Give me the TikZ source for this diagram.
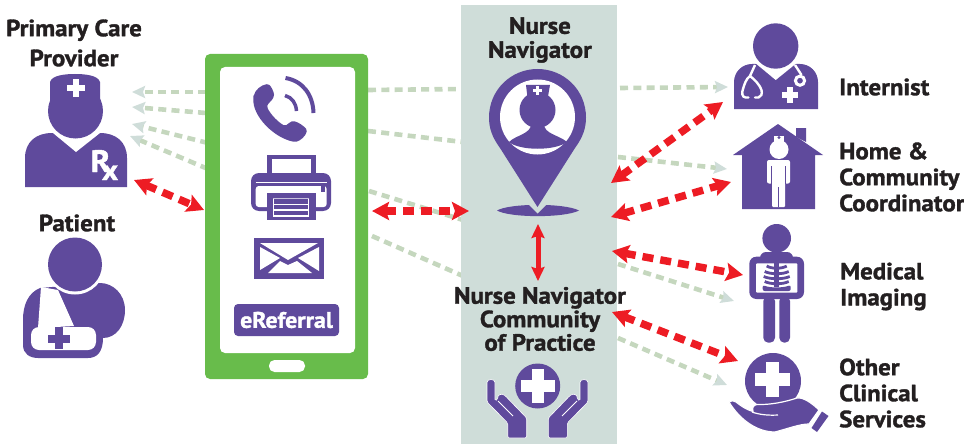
\documentclass[tikz,border=0pt]{standalone}
\usepackage{fontspec}
\setmainfont{PT Sans}[BoldFeatures={FakeBold=1.4,FakeStretch=1.06}]
\usetikzlibrary{arrows.meta}
\definecolor{purp}{HTML}{5F4A9C}
\definecolor{phonegreen}{HTML}{68BC4B}
\definecolor{panelc}{HTML}{CFDDD9}
\definecolor{dashg}{HTML}{C5D7BE}
\definecolor{redc}{HTML}{ED1C24}
\definecolor{ink}{HTML}{231F20}
\tikzset{
  lbl/.style={font=\bfseries\fontsize{23.5}{26}\selectfont,text=ink,inner sep=0pt,align=center},
  lblleft/.style={lbl,align=left,anchor=west},
  greenplain/.style={draw=dashg,line width=4.6pt,dash pattern=on 8pt off 5.3pt},
  greenarrow/.style={greenplain,-{Stealth[length=13pt,width=12pt,inset=2pt,color=panelc]}},
  redarrow/.style={draw=redc,line width=7.5pt,dash pattern=on 11pt off 7pt,{Stealth[length=17pt,width=18pt,inset=3pt]}-{Stealth[length=17pt,width=18pt,inset=3pt]}},
  redsolid/.style={draw=redc,line width=5pt,{Stealth[length=14pt,width=13pt,inset=2pt]}-{Stealth[length=14pt,width=13pt,inset=2pt]}},
}
\begin{document}
\begin{tikzpicture}[x=1pt,y=-1pt]
\useasboundingbox (0,0) rectangle (964,444);
% endpoints
\coordinate (pg1) at (132,92); \coordinate (pg2) at (132,107); \coordinate (pg3) at (132,124); \coordinate (pg4) at (130,136);
\coordinate (mg1) at (206,92); \coordinate (mg2) at (206,113); \coordinate (mg3) at (208,143); \coordinate (mg4) at (208,169);
\coordinate (ma1) at (368,90); \coordinate (ma2) at (368,131); \coordinate (ma3) at (369,191); \coordinate (ma4) at (372,236);
\coordinate (na1) at (463,89); \coordinate (na2) at (463,142); \coordinate (na3) at (463,220); \coordinate (na4) at (463,276);
\coordinate (rs1) at (620,88); \coordinate (rs2) at (618,157); \coordinate (rs3) at (618,264); \coordinate (rs4) at (618,338);
\coordinate (ri1) at (728,87); \coordinate (rh1) at (727,169); \coordinate (rm1) at (734,301); \coordinate (ro1) at (727,385);
\coordinate (rp) at (134,180); \coordinate (rq) at (204,210);
\coordinate (rphone) at (372,211); \coordinate (rnn) at (469,211);
\coordinate (rtop) at (538,224); \coordinate (rbot) at (538,281);
\coordinate (a1) at (611,183); \coordinate (b1) at (723,102);
\coordinate (a2) at (611,217); \coordinate (b2) at (731,182);
\coordinate (a3) at (612,251); \coordinate (b3) at (743,275);
\coordinate (a4) at (612,312); \coordinate (b4) at (738,361);
% green dashed
\draw[greenarrow] (mg1) -- (pg1);
\draw[greenarrow] (mg2) -- (pg2);
\draw[greenarrow] (mg3) -- (pg3);
\draw[greenarrow] (mg4) -- (pg4);
\foreach \s/\e in {ma1/na1,ma2/na2,ma3/na3,ma4/na4}
  \draw[greenplain] (\s) -- (\e);
\draw[greenarrow] (rs1) -- (ri1);
\draw[greenarrow] (rs2) -- (rh1);
\draw[greenarrow] (rs3) -- (rm1);
\draw[greenarrow] (rs4) -- (ro1);
% panel
\fill[panelc] (461,5) rectangle (617,444);
% phone
\fill[phonegreen,rounded corners=5pt] (205,54) rectangle (368,379);
\fill[white,rounded corners=5pt] (220,67) rectangle (355,353);
\fill[white,rounded corners=5.5pt] (269,360) rectangle (305,372);
% handset
\fill[purp,rounded corners=1.5pt] (253.5,97) .. controls (255,90) and (261,85) .. (268,84)
  .. controls (271,86) and (274,92) .. (274,96) .. controls (272,101) and (268,103) .. (267,107)
  .. controls (271,115) and (278,122) .. (285,126) .. controls (288,124) and (290,122) .. (293,121)
  .. controls (298,122) and (304,126) .. (307,130) .. controls (306,136) and (300,141) .. (295,142)
  .. controls (274,138) and (252,116) .. (253.5,97) -- cycle;
\draw[purp,line width=4pt] (285.5,78) .. controls (303,81) and (313,95) .. (313.5,113);
\draw[purp,line width=3.5pt] (285,95.5) .. controls (292,97.5) and (296,103) .. (296.5,111);
% printer
\fill[purp] (267,155) rectangle (316,175);
\fill[white] (271.7,159) rectangle (311,173);
\fill[purp,rounded corners=8pt] (251,173) rectangle (331,211);
\fill[white,rounded corners=3pt] (255.7,186) rectangle (326.7,207);
\draw[white,line width=1.2pt] (255.7,182.7) -- (326.7,182.7);
\fill[purp] (321,186) rectangle (325,192);
\fill[purp] (267,193) rectangle (316,219.5);
\draw[white,line width=1.5pt] (273.5,198) -- (273.5,216);
\draw[white,line width=1.5pt] (308.5,198) -- (308.5,216);
\draw[white!65!purp,line width=1.2pt] (273,198.3) -- (309,198.3);
\foreach \yy in {204.3,210,215.8} \draw[white,line width=1.4pt] (273,\yy) -- (309,\yy);
% envelope
\fill[purp] (254,238) rectangle (324,279);
\fill[white] (260,243) -- (318,243) -- (288,260) -- cycle;
\fill[white] (260,247) -- (260,270) -- (280,258) -- cycle;
\fill[white] (319,247) -- (319,271) -- (298,258) -- cycle;
\fill[white] (268,273) -- (312,273) -- (297,261) -- (288,265) -- (280,261) -- cycle;
% eReferral
\node[fill=purp,rounded corners=4pt,minimum width=105pt,minimum height=32pt,inner sep=0pt,text=white,font=\bfseries\fontsize{22.5}{24}\selectfont] (eref) at (286.5,320) {eReferral};
% Primary care provider
\node[lbl,font=\bfseries\fontsize{23.5}{30}\selectfont] (pcpl) at (74,43) {Primary Care\\Provider};
\fill[purp] (25,187) -- (25,158) .. controls (25,142) and (36,133) .. (52,133) -- (100,133) .. controls (116,133) and (127,142) .. (127,158) -- (127,187) -- cycle;
\fill[white] (53,133) -- (76,152) -- (100,133) -- cycle;
\fill[white] (75.5,111) circle[radius=31];
\fill[purp] (75.5,111) circle[radius=27.5];
\fill[purp] (50,108) -- (50,82) .. controls (52,75) and (66,74) .. (75,74) .. controls (84,74) and (98,75) .. (100,82) -- (100,108) -- cycle;
\fill[white] (67,85) rectangle (85,91);
\fill[white] (73,79) rectangle (79,97);
\node[anchor=base west,inner sep=0pt,text=white,font=\bfseries\fontsize{31}{31}\selectfont] (rx) at (90.5,172) {R\kern-8.5pt\raisebox{-8pt}{\fontsize{29}{29}\selectfont x}};
% patient
\node[lbl] (patl) at (77,223) {Patient};
\fill[purp] (40,288) .. controls (28,293) and (23,305) .. (23,320) -- (23,345) .. controls (23,354) and (30,358) .. (38,358) -- (88,358) .. controls (97,358) and (103,352) .. (103,338) .. controls (116,338) and (125,326) .. (125,310) .. controls (125,294) and (113,283) .. (100,283) -- cycle;
\fill[white] (75,264.5) circle[radius=30];
\fill[purp] (75,264.5) circle[radius=27];
\fill[white] (41,287) -- (38,328) -- (74,326) -- (58,290) -- cycle;
\fill[white,rounded corners=8pt] (31,327) rectangle (96,350);
\fill[purp] (48,334.5) rectangle (70,342.5);
\fill[purp] (55,327) rectangle (63,349);
% nurse navigator
\node[lbl,font=\bfseries\fontsize{23.5}{24}\selectfont] (nnl) at (540,40) {Nurse\\Navigator};
\fill[purp] (497,210.5) .. controls (510,203) and (565,203) .. (579,210.5) .. controls (565,218) and (510,218) .. (497,210.5) -- cycle;
\fill[panelc] (527,203) -- (537.5,213.5) -- (548,203) -- cycle;
\fill[purp] (537.5,207) -- (500,148) .. controls (492,137) and (489,128) .. (489,117.5) .. controls (489,90) and (511,69) .. (537.5,69) .. controls (564,69) and (586,90) .. (586,117.5) .. controls (586,128) and (583,137) .. (575,148) -- cycle;
\fill[white] (537.5,117) circle[radius=37.5];
\fill[purp] (537.5,110) circle[radius=18];
\fill[purp] (526,85) -- (550,85) -- (547,102) -- (528,102) -- cycle;
\fill[white] (535.7,86) rectangle (539.3,95);
\fill[white] (533,88.7) rectangle (542,92.3);
\fill[purp] (509,142) .. controls (516,135) and (531,134) .. (531,124) -- (544,124) .. controls (544,134) and (559,135) .. (567,142) .. controls (555,151) and (520,151) .. (509,142) -- cycle;
% community
\node[lbl,font=\bfseries\fontsize{23.5}{23.5}\selectfont] (cop) at (540,319) {Nurse Navigator\\Community\\of Practice};
\fill[purp] (537.7,386) circle[radius=22.5];
\fill[white] (520.5,379.5) rectangle (554.5,391.5);
\fill[white] (531.5,368.5) rectangle (543.5,402.5);
\foreach \m in {1,-1}{
\begin{scope}[shift={(537.5,0)},xscale=\m]
\fill[purp,draw=white,line width=.6pt,rounded corners=1.5pt] (-50.5,384) .. controls (-50.5,378.5) and (-42.5,378.5) .. (-42.5,384) -- (-42.5,401) -- (-39.5,399) .. controls (-40,395) and (-36,393) .. (-32,396) -- (-10.8,418) -- (-10.8,438) -- (-29.8,438) -- (-29.8,423) -- (-50.5,402) -- cycle;
\draw[white,line width=.9pt] (-39.5,401) -- (-24.5,416);
\end{scope}}
% internist
\node[lblleft] (l1) at (839,87) {Internist};
\fill[purp] (734,109) -- (734,82) .. controls (734,72) and (742,64) .. (752,64) -- (800,64) .. controls (810,64) and (818,72) .. (818,82) -- (818,109) -- cycle;
\fill[white] (754,62) -- (775.7,80) -- (798,62) -- cycle;
\fill[white] (775.7,46) circle[radius=25.5];
\fill[purp] (775.7,46) circle[radius=22.7];
\draw[white,line width=2.4pt] (755,65) -- (750,76);
\draw[white,line width=2.4pt,line cap=round] (748.5,97.5) -- (745.5,97.5) .. controls (742,97) and (741.5,93) .. (743,89) .. controls (744.5,84) and (746,79) .. (750,76) .. controls (754,79) and (760,85) .. (761.5,90) .. controls (762.5,94) and (761,97) .. (758.5,97.5) -- (755,97.5);
\draw[white,line width=2.4pt] (795,65) -- (801.5,75);
\draw[white,line width=3pt] (800,80.7) circle[radius=4.6];
\fill[white] (782,92) rectangle (797.7,98);
\fill[white] (786.7,87) rectangle (793,102.5);
% house
\node[lblleft] (l2) at (839,177) {Home \&\\Community\\Coordinator};
\fill[purp] (796,128) -- (806,128) -- (806,142) -- (796,137) -- cycle;
\fill[purp] (778,124) -- (823,155) -- (815,155) -- (815,209) -- (742,209) -- (742,155) -- (733,155) -- cycle;
\fill[white] (774,136) rectangle (784,143);
\fill[purp] (779,137.5) circle[radius=1.6];
\fill[white] (779,149.5) circle[radius=9.5];
\fill[white,rounded corners=2pt] (767,160) rectangle (790,183.5);
\fill[white,rounded corners=1pt] (772,175) rectangle (785,207);
\draw[purp,line width=.9pt] (771.5,166) -- (771.5,184);
\draw[purp,line width=.9pt] (785.5,166) -- (785.5,184);
\draw[purp,line width=.9pt] (778.5,187) -- (778.5,207);
% imaging
\node[lblleft] (l3) at (840,286.5) {Medical\\Imaging};
\fill[purp] (776.7,238.3) circle[radius=14.3];
\fill[purp,rounded corners=6pt] (760,252) rectangle (793,270);
\fill[purp,rounded corners=7pt] (749.3,256.7) rectangle (804,299);
\fill[white,rounded corners=1pt] (756,263.3) rectangle (797.3,292.7);
\fill[purp,rounded corners=5pt] (763.3,296) -- (775,296) -- (775,342.7) -- (763.3,342.7) -- cycle;
\fill[purp,rounded corners=5pt] (779.3,296) -- (790,296) -- (790,342.7) -- (779.3,342.7) -- cycle;
\draw[purp,line width=4.5pt] (776.7,263.3) -- (776.7,287);
\foreach \yy/\w in {268/10,273.5/12,278.5/13,283.5/12}
  \draw[purp,line width=2.8pt] (776.7-\w,\yy-2) .. controls (776.7-\w*.5,\yy+1) and (776.7+\w*.5,\yy+1) .. (776.7+\w,\yy-2);
\fill[purp,rounded corners=2pt] (762.7,285) .. controls (770,288) and (783,288) .. (790.7,285) -- (790.7,291) -- (762.7,291) -- cycle;
% other
\node[lblleft] (l4) at (839,393) {Other\\Clinical\\Services};
\fill[purp] (773,381) circle[radius=28];
\fill[white] (755,373) rectangle (790,386);
\fill[white] (765.7,362) rectangle (778.5,397);
\fill[purp,draw=white,line width=1.2pt] (729,402) .. controls (731,400) and (734,400.5) .. (736,402) .. controls (741,406) and (747,410) .. (753,411.5) .. controls (752,408) and (753,405) .. (757,404.5) .. controls (770,405) and (785,402) .. (797,398) .. controls (803,397) and (812,403) .. (819,410) -- (809,424) .. controls (800,424) and (790,428) .. (775,432) .. controls (757,432) and (740,420) .. (729,402) -- cycle;
\draw[white,line width=1.2pt] (752,412) .. controls (760,415) and (770,415.5) .. (778,415);
\fill[purp] (822,411.5) -- (828.5,416) -- (817,432) -- (811.5,428) -- cycle;
% red arrows
\draw[redarrow] (rp) -- (rq);
\draw[redarrow] (rphone) -- (rnn);
\draw[redsolid] (rtop) -- (rbot);
\draw[redarrow] (a1) -- (b1);
\draw[redarrow] (a2) -- (b2);
\draw[redarrow] (a3) -- (b3);
\draw[redarrow] (a4) -- (b4);
\end{tikzpicture}
\end{document}
